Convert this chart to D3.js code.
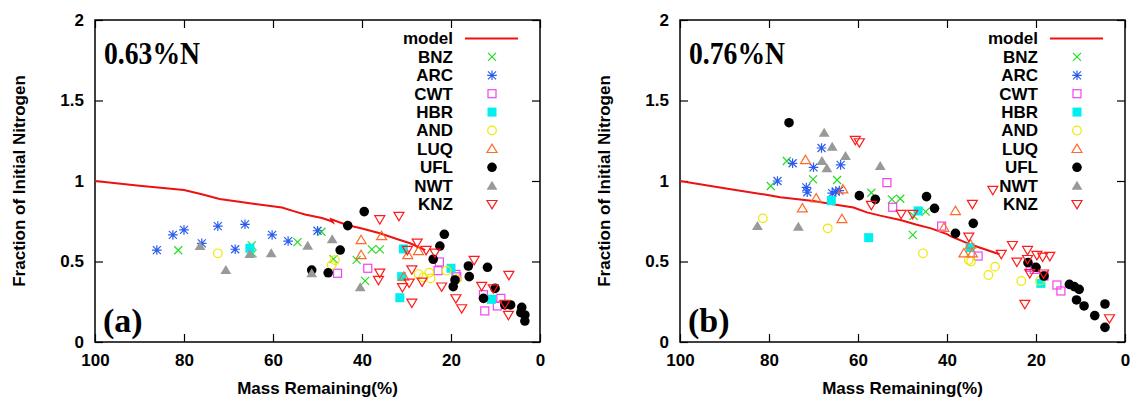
<!DOCTYPE html>
<html><head><meta charset="utf-8">
<script src="https://cdn.jsdelivr.net/npm/d3@7"></script>
<style>body{margin:0;background:#fff}svg{display:block}</style>
</head><body><svg id="c" width="1130" height="399"></svg>
<script>
// ---------- data ----------
const xTicks=[100,80,60,40,20,0];
const yTicks=[0,0.5,1,1.5,2];
const yTickLabels=["0","0.5","1","1.5","2"];
const legendNames=["BNZ","ARC","CWT","HBR","AND","LUQ","UFL","NWT","KNZ"];
const panelTags=["0.63%N","0.76%N"];
const panelLetters=["(a)","(b)"];
const xTitle="Mass Remaining(%)";
const yTitle="Fraction of Initial Nitrogen";

const modelA=[[100,1.0],[90,0.97],[80,0.944],[76,0.918],[72,0.888],[64,0.857],[58,0.835],[55,0.81],[52.8,0.792],[49,0.77],[47,0.752],[46.6,0.745],[46.9,0.762],[43.4,0.727],[40,0.705],[36,0.675],[32,0.638],[29.2,0.613],[25.8,0.571]];
const bnzA=[[81.3,0.57],[64.8,0.60],[64.6,0.55],[54.5,0.62],[49.1,0.685],[46.4,0.515],[41.2,0.51],[39.3,0.38],[37.8,0.575],[36.0,0.575]];
const arcA=[[86.1,0.571],[82.5,0.665],[80.0,0.696],[76.0,0.613],[72.4,0.72],[68.5,0.576],[66.3,0.731],[60.2,0.665],[56.6,0.627],[50.0,0.691]];
const cwtA=[[45.5,0.427],[38.7,0.458],[22.6,0.497],[22.9,0.443],[18.9,0.42],[18.7,0.405],[12.4,0.193],[12.7,0.294],[9.6,0.224],[8.8,0.271]];
const hbrA=[[65.2,0.582],[30.7,0.578],[31.1,0.406],[31.5,0.275],[20.0,0.458],[10.9,0.265]];
const andA=[[72.4,0.551],[46.1,0.509],[46.8,0.478],[27.3,0.422],[26.2,0.402],[24.9,0.43],[24.6,0.395],[21.0,0.443],[18.8,0.39]];
const luqA=[[40.2,0.633],[40.2,0.54],[35.6,0.658],[29.7,0.54],[27.3,0.565],[30.6,0.406]];
const uflA=[[51.3,0.447],[47.6,0.43],[44.9,0.571],[43.2,0.723],[39.5,0.81],[24.0,0.514],[22.5,0.596],[21.5,0.669],[19.5,0.344],[19.1,0.385],[16.1,0.472],[15.9,0.406],[12.7,0.271],[11.8,0.464],[10.1,0.333],[7.9,0.23],[6.6,0.23],[4.1,0.215],[4.3,0.182],[3.4,0.168],[3.4,0.13]];
const nwtA=[[76.4,0.596],[70.6,0.447],[65.2,0.547],[60.4,0.551],[52.2,0.598],[51.3,0.427],[46.7,0.638],[40.4,0.34]];
const knzA=[[36.0,0.762],[31.7,0.783],[27.6,0.617],[29.8,0.571],[25.6,0.571],[23.6,0.555],[36.0,0.43],[36.3,0.385],[28.8,0.451],[30.9,0.34],[29.4,0.368],[26.5,0.375],[28.8,0.244],[22.1,0.344],[18.9,0.271],[17.6,0.209],[14.8,0.509],[13.1,0.348],[10.5,0.333],[7.0,0.416],[7.9,0.236],[7.1,0.168]];

const modelB=[[100,1.0],[90,0.955],[80,0.912],[77.5,0.899],[70,0.876],[66,0.857],[61,0.835],[58,0.805],[55,0.785],[50.5,0.758],[49.5,0.75],[47,0.73],[43.6,0.706],[40,0.67],[39,0.655],[36,0.62],[33.2,0.592],[28.2,0.545]];
const bnzB=[[79.6,0.969],[76.0,1.124],[70.1,1.01],[64.7,1.006],[57.0,0.927],[52.4,0.886],[50.5,0.89],[47.5,0.783],[44.8,0.81],[47.7,0.665]];
const arcB=[[78.1,1.0],[74.7,1.11],[71.6,0.96],[71.4,0.93],[70.0,1.085],[68.2,1.205],[65.8,0.925],[65.0,0.935],[64.2,0.94],[63.9,1.10]];
const cwtB=[[53.5,0.99],[52.2,0.837],[41.2,0.72],[33.0,0.534],[21.3,0.464],[20.4,0.451],[18.2,0.41],[15.3,0.354],[14.4,0.317]];
const hbrB=[[66.0,0.878],[57.6,0.648],[46.5,0.814],[34.8,0.586],[18.9,0.364]];
const andB=[[81.4,0.768],[66.8,0.706],[45.4,0.551],[35.1,0.509],[34.6,0.5],[29.2,0.468],[30.7,0.416],[23.3,0.379],[19.1,0.381]];
const luqB=[[71.8,1.13],[69.4,0.892],[72.5,0.83],[63.4,0.948],[63.6,0.764],[38.1,0.814],[40.7,0.71],[34.7,0.605],[36.2,0.551],[34.3,0.551]];
const uflB=[[75.5,1.362],[59.7,0.909],[56.1,0.886],[44.6,0.903],[42.8,0.83],[38.1,0.675],[34.1,0.737],[21.8,0.493],[20.0,0.464],[18.2,0.41],[12.5,0.358],[11.4,0.344],[10.3,0.327],[10.9,0.261],[9.2,0.224],[6.8,0.164],[4.5,0.236],[4.5,0.091]];
const nwtB=[[82.6,0.72],[73.4,0.716],[67.6,1.3],[65.8,1.213],[68.1,1.124],[67.0,1.079],[62.8,1.155],[55.0,1.093]];
const knzB=[[60.6,1.255],[59.7,1.24],[57.0,0.851],[50.3,0.795],[47.7,0.795],[29.7,0.944],[34.3,0.857],[35.1,0.654],[27.8,0.547],[25.3,0.602],[24.3,0.499],[21.9,0.571],[19.8,0.54],[18.5,0.53],[16.9,0.534],[21.9,0.515],[21.4,0.427],[18.3,0.425],[22.5,0.236],[3.5,0.147]];

// ---------- styles ----------
const seriesStyle=[
  {type:"x",color:"#22dd22"},
  {type:"ast",color:"#2a5cf0"},
  {type:"sq",color:"#ee44ee"},
  {type:"fsq",color:"#00f0f0"},
  {type:"circ",color:"#f0e800"},
  {type:"tri",color:"#ff6a2a"},
  {type:"fcirc",color:"#000000"},
  {type:"ftri",color:"#999999"},
  {type:"dtri",color:"#ff1a1a"}
];
const FONT="'Liberation Sans', Arial, Helvetica, sans-serif";
const SERIF="'Liberation Serif', 'Times New Roman', serif";

const svg=d3.select("#c");

function drawSym(g,type,color,cx,cy){
  const s=4;
  if(type==="x"){
    g.append("path").attr("d",`M${cx-s},${cy-s}L${cx+s},${cy+s}M${cx-s},${cy+s}L${cx+s},${cy-s}`).attr("stroke",color).attr("stroke-width",1.2).attr("fill","none");
  }else if(type==="ast"){
    g.append("path").attr("d",`M${cx-s},${cy-s}L${cx+s},${cy+s}M${cx-s},${cy+s}L${cx+s},${cy-s}M${cx-s-0.8},${cy}L${cx+s+0.8},${cy}M${cx},${cy-s-0.8}L${cx},${cy+s+0.8}`).attr("stroke",color).attr("stroke-width",1.2).attr("fill","none");
  }else if(type==="sq"){
    g.append("rect").attr("x",cx-4).attr("y",cy-4).attr("width",8).attr("height",8).attr("stroke",color).attr("stroke-width",1.2).attr("fill","none");
  }else if(type==="fsq"){
    g.append("rect").attr("x",cx-4.5).attr("y",cy-4.5).attr("width",9).attr("height",9).attr("fill",color);
  }else if(type==="circ"){
    g.append("circle").attr("cx",cx).attr("cy",cy).attr("r",4.3).attr("stroke",color).attr("stroke-width",1.2).attr("fill","none");
  }else if(type==="fcirc"){
    g.append("circle").attr("cx",cx).attr("cy",cy).attr("r",4.8).attr("fill",color);
  }else if(type==="tri"){
    g.append("path").attr("d",`M${cx},${cy-4.8}L${cx+5},${cy+3.6}L${cx-5},${cy+3.6}Z`).attr("stroke",color).attr("stroke-width",1.2).attr("fill","none");
  }else if(type==="ftri"){
    g.append("path").attr("d",`M${cx},${cy-5}L${cx+5.4},${cy+4}L${cx-5.4},${cy+4}Z`).attr("fill",color);
  }else if(type==="dtri"){
    g.append("path").attr("d",`M${cx},${cy+4.8}L${cx+5},${cy-3.6}L${cx-5},${cy-3.6}Z`).attr("stroke",color).attr("stroke-width",1.2).attr("fill","none");
  }
}

const panels=[
  {ox:0,tag:panelTags[0],letter:panelLetters[0],model:modelA,series:[bnzA,arcA,cwtA,hbrA,andA,luqA,uflA,nwtA,knzA]},
  {ox:585,tag:panelTags[1],letter:panelLetters[1],model:modelB,series:[bnzB,arcB,cwtB,hbrB,andB,luqB,uflB,nwtB,knzB]}
];

panels.forEach((p,pi)=>{
  const L=95,R=540,T=20,B=342;
  const g=svg.append("g").attr("transform",`translate(${p.ox},0)`);
  const x=d3.scaleLinear().domain([100,0]).range([L,R]);
  const y=d3.scaleLinear().domain([0,2]).range([B,T]);

  const clipId="clip"+pi;
  g.append("clipPath").attr("id",clipId).append("rect").attr("x",L).attr("y",T).attr("width",R-L).attr("height",B-T);

  // axes
  const ax=g.append("g").attr("transform",`translate(0,${B})`)
    .call(d3.axisBottom(x).tickValues(xTicks).tickSize(-8).tickPadding(12).tickFormat(d3.format("d")));
  const ay=g.append("g").attr("transform",`translate(${L},0)`)
    .call(d3.axisLeft(y).tickValues(yTicks).tickSize(-8).tickPadding(11).tickFormat((d,i)=>yTickLabels[i]));
  const at=g.append("g").attr("transform",`translate(0,${T})`)
    .call(d3.axisTop(x).tickValues(xTicks).tickSize(-8).tickFormat(""));
  const ar=g.append("g").attr("transform",`translate(${R},0)`)
    .call(d3.axisRight(y).tickValues(yTicks).tickSize(-8).tickFormat(""));
  [ax,ay,at,ar].forEach(a=>{
    a.select(".domain").remove();
    a.selectAll("line").attr("stroke","#000").attr("stroke-width",1.2);
    a.selectAll("text").attr("font-family",FONT).attr("font-weight","bold").attr("font-size",17).attr("fill","#000");
  });

  g.append("rect").attr("x",L).attr("y",T).attr("width",R-L).attr("height",B-T)
    .attr("fill","none").attr("stroke","#000").attr("stroke-width",1.5);

  // titles
  g.append("text").attr("x",(L+R)/2).attr("y",394).attr("text-anchor","middle")
    .attr("font-family",FONT).attr("font-weight","bold").attr("font-size",17).text(xTitle);
  g.append("text").attr("transform",`translate(19,181) rotate(-90)`).attr("dy","0.35em").attr("text-anchor","middle")
    .attr("font-family",FONT).attr("font-weight","bold").attr("font-size",17).text(yTitle);

  const plot=g.append("g").attr("clip-path",`url(#${clipId})`);
  // model
  plot.append("path").datum(p.model)
    .attr("d",d3.line().x(d=>x(d[0])).y(d=>y(d[1])))
    .attr("fill","none").attr("stroke","#ee1111").attr("stroke-width",2);
  // series
  p.series.forEach((arr,si)=>{
    const st=seriesStyle[si];
    const sg=plot.append("g");
    arr.forEach(d=>drawSym(sg,st.type,st.color,x(d[0]),y(d[1])));
  });

  // legend
  const lg=g.append("g");
  const rowY=i=>38.5+i*18.4;
  lg.append("text").attr("x",453).attr("y",rowY(0)).attr("dy","0.35em").attr("text-anchor","end")
    .attr("font-family",FONT).attr("font-weight","bold").attr("font-size",17).text("model");
  lg.append("line").attr("x1",465).attr("x2",518).attr("y1",rowY(0)).attr("y2",rowY(0)).attr("stroke","#ee1111").attr("stroke-width",2);
  legendNames.forEach((n,i)=>{
    lg.append("text").attr("x",453).attr("y",rowY(i+1)).attr("dy","0.35em").attr("text-anchor","end")
      .attr("font-family",FONT).attr("font-weight","bold").attr("font-size",17).text(n);
    drawSym(lg,seriesStyle[i].type,seriesStyle[i].color,492,rowY(i+1));
  });

  // panel labels
  g.append("text").attr("x",104).attr("y",64).attr("font-family",SERIF).attr("font-weight","bold").attr("font-size",31)
    .attr("textLength",96).attr("lengthAdjust","spacingAndGlyphs").text(p.tag);
  g.append("text").attr("x",103).attr("y",332).attr("font-family",SERIF).attr("font-weight","bold").attr("font-size",34).text(p.letter);
});
</script>
</body></html>
